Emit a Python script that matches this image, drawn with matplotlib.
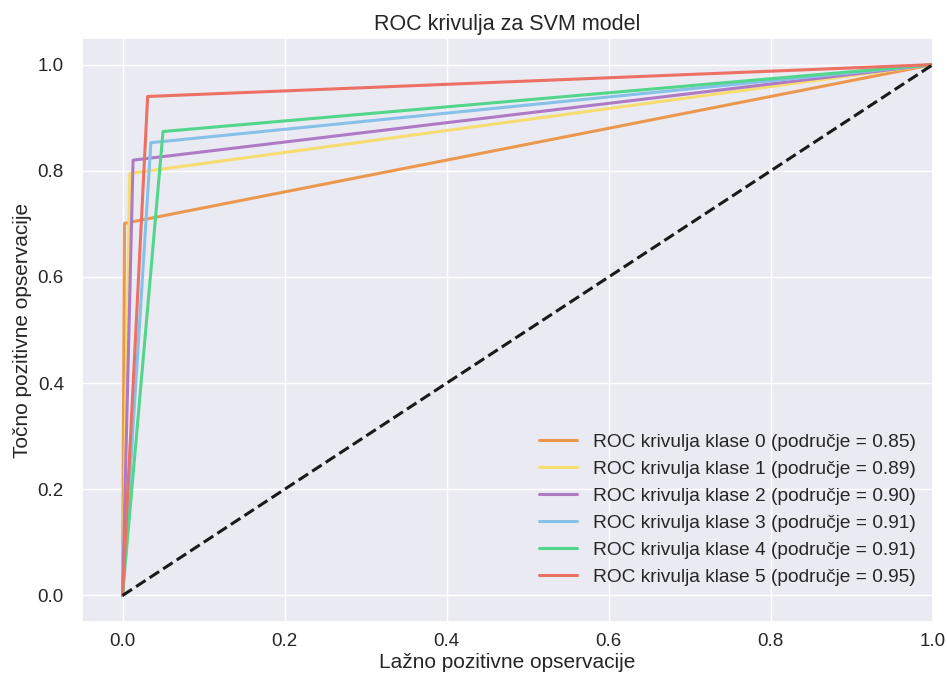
import matplotlib
matplotlib.use("Agg")
import matplotlib.pyplot as plt
import seaborn as sns

sns.set_theme(style="darkgrid")
plt.rcParams["font.family"] = ["Liberation Sans", "DejaVu Sans"]

CLASSES = [0, 1, 2, 3, 4, 5]
FPR = [
    [0.0, 0.0025, 1.0],
    [0.0, 0.009, 1.0],
    [0.0, 0.013, 1.0],
    [0.0, 0.035, 1.0],
    [0.0, 0.050, 1.0],
    [0.0, 0.031, 1.0],
]
TPR = [
    [0.0, 0.701, 1.0],
    [0.0, 0.795, 1.0],
    [0.0, 0.820, 1.0],
    [0.0, 0.853, 1.0],
    [0.0, 0.874, 1.0],
    [0.0, 0.940, 1.0],
]
AUC = [0.85, 0.89, 0.90, 0.91, 0.91, 0.95]
COLORS = ["#EB984E", "#F7DC6F", "#AF7AC5", "#85C1E9", "#52D68A", "#EC7063"]


def main():
    fig = plt.figure(figsize=(9.47, 6.81), dpi=100)
    ax = fig.add_axes([0.0866, 0.0866, 0.8985, 0.8575])

    for k, fpr, tpr, auc, col in zip(CLASSES, FPR, TPR, AUC, COLORS):
        ax.plot(fpr, tpr, color=col, lw=2.2,
                label=f"ROC krivulja klase {k} (područje = {auc:.2f})")

    ax.plot([0, 1], [0, 1], "k--", lw=2.2)

    ax.set_xlim(-0.05, 1.0)
    ax.set_ylim(-0.05, 1.05)
    ax.set_xlabel("Lažno pozitivne opservacije", fontsize=15, labelpad=2)
    ax.set_ylabel("Točno pozitivne opservacije", fontsize=15)
    ax.set_title("ROC krivulja za SVM model", fontsize=15.5)
    ax.tick_params(axis="x", labelsize=13.5, pad=2)
    ax.tick_params(axis="y", labelsize=13.5, pad=7)
    ax.legend(loc="lower right", bbox_to_anchor=(1.0, 0.033),
              fontsize=13.8, frameon=False)

    fig.savefig("out.png", dpi=100)


if __name__ == "__main__":
    main()
